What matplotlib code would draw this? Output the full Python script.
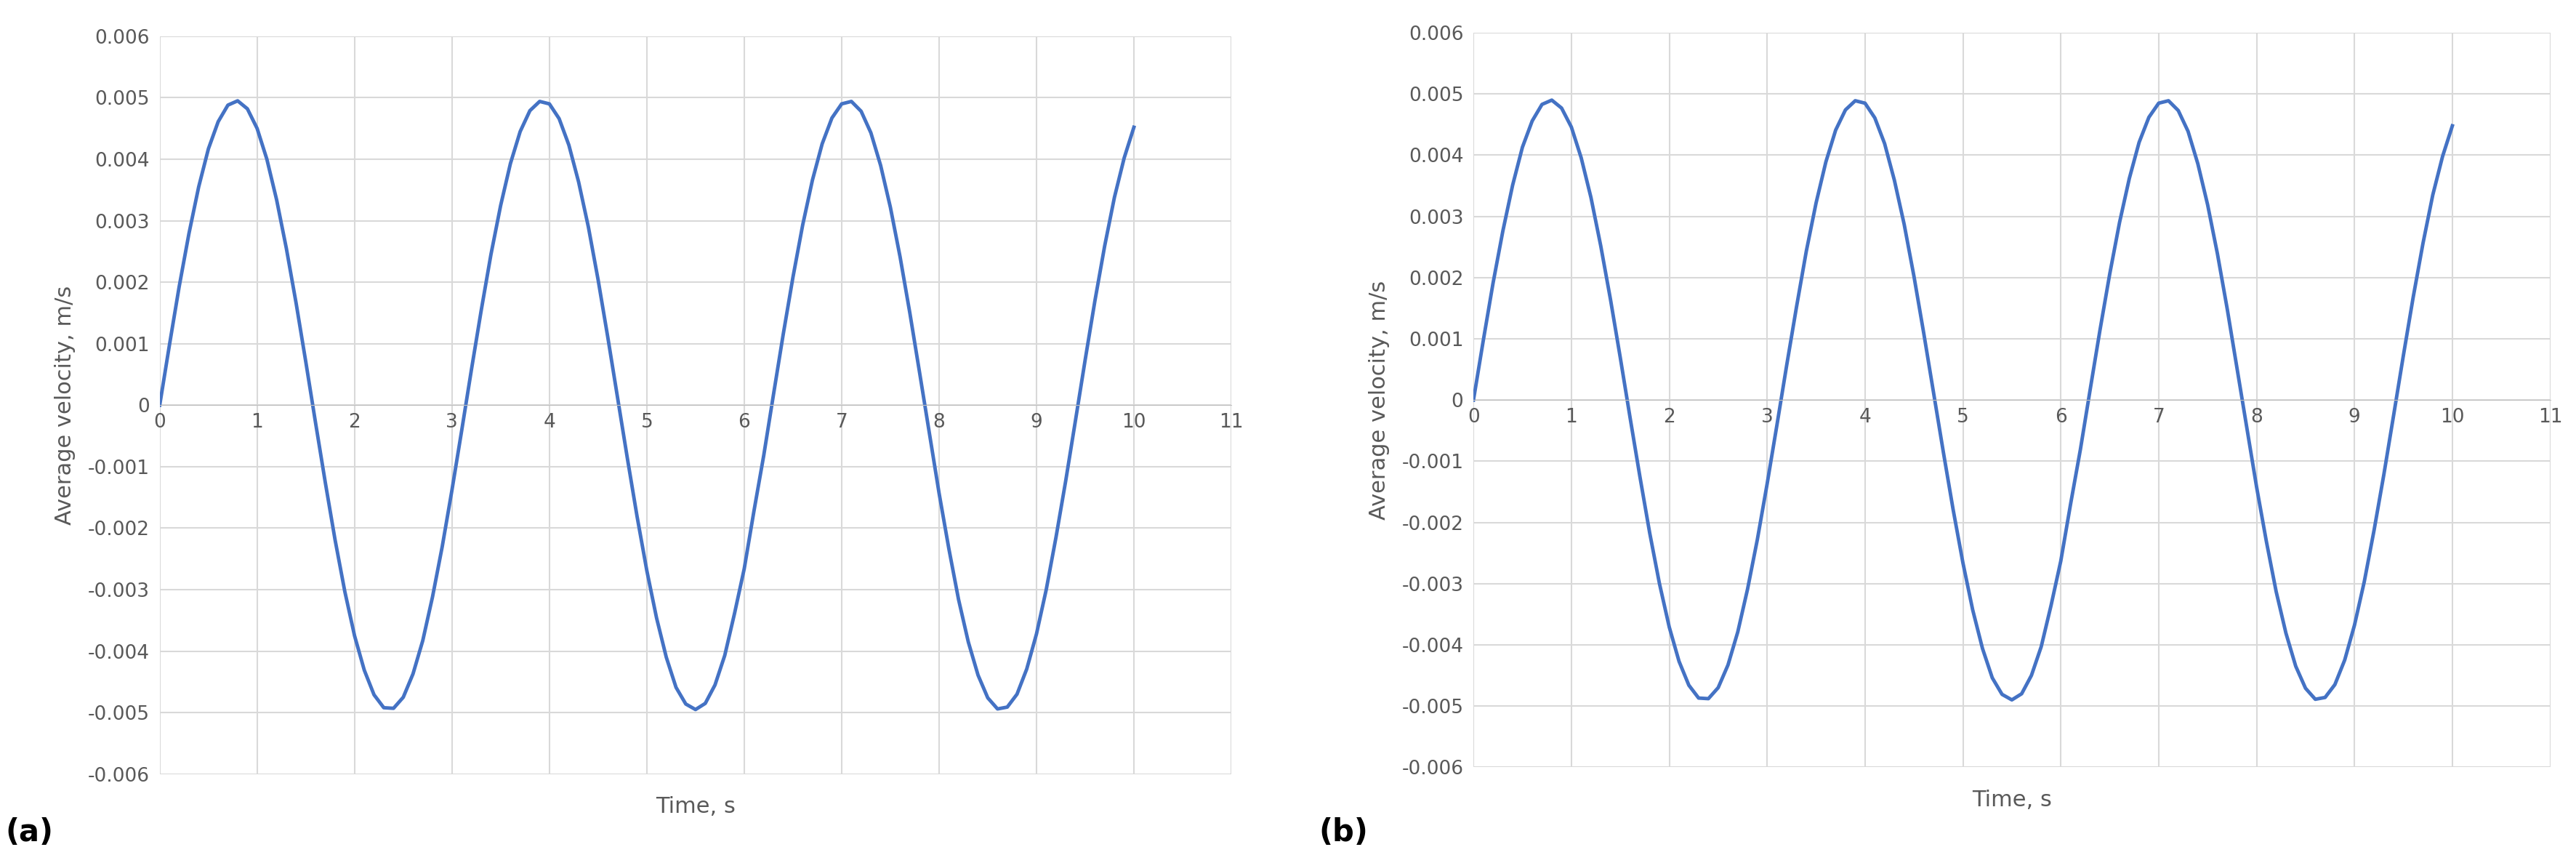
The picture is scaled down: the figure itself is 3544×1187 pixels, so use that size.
import matplotlib.pyplot as plt

# values (time in s, velocity in m/s), every 0.1 s
time_s = [round(0.1 * i, 1) for i in range(101)]
vel_a = [0.0, 0.00098, 0.00193, 0.00279, 0.00355, 0.00417, 0.00461, 0.00488, 0.00495, 0.00482,
         0.00450, 0.00400, 0.00334, 0.00255, 0.00166, 0.00070, -0.00029, -0.00126, -0.00219, -0.00303,
         -0.00375, -0.00431, -0.00471, -0.00492, -0.00493, -0.00475, -0.00437, -0.00383, -0.00312, -0.00230,
         -0.00138, -0.00041, 0.00058, 0.00154, 0.00245, 0.00325, 0.00393, 0.00445, 0.00479, 0.00494,
         0.00490, 0.00466, 0.00423, 0.00363, 0.00290, 0.00204, 0.00110, 0.00012, -0.00086, -0.00181,
         -0.00269, -0.00346, -0.00410, -0.00459, -0.00486, -0.00495, -0.00485, -0.00455, -0.00407, -0.00339,
         -0.00266, -0.00172, -0.00082, 0.00017, 0.00115, 0.00208, 0.00293, 0.00366, 0.00425, 0.00467,
         0.00490, 0.00494, 0.00478, 0.00443, 0.00390, 0.00322, 0.00241, 0.00150, 0.00053, -0.00045,
         -0.00143, -0.00233, -0.00316, -0.00385, -0.00439, -0.00476, -0.00494, -0.00491, -0.00470, -0.00429,
         -0.00372, -0.00300, -0.00215, -0.00123, -0.00025, 0.00074, 0.00170, 0.00259, 0.00338, 0.00402,
         0.00452]
vel_b = [0.0, 0.00097, 0.00191, 0.00276, 0.00351, 0.00413, 0.00456, 0.00483, 0.00490, 0.00477,
         0.00446, 0.00396, 0.00331, 0.00252, 0.00164, 0.00069, -0.00029, -0.00125, -0.00217, -0.00300,
         -0.00371, -0.00427, -0.00466, -0.00487, -0.00488, -0.00470, -0.00433, -0.00379, -0.00309, -0.00228,
         -0.00137, -0.00041, 0.00057, 0.00152, 0.00243, 0.00322, 0.00389, 0.00441, 0.00474, 0.00489,
         0.00485, 0.00461, 0.00419, 0.00359, 0.00287, 0.00202, 0.00109, 0.00012, -0.00085, -0.00179,
         -0.00266, -0.00343, -0.00406, -0.00454, -0.00481, -0.00490, -0.00480, -0.00450, -0.00403, -0.00336,
         -0.00263, -0.00170, -0.00081, 0.00017, 0.00114, 0.00206, 0.00290, 0.00362, 0.00421, 0.00462,
         0.00485, 0.00489, 0.00473, 0.00439, 0.00386, 0.00319, 0.00239, 0.00149, 0.00052, -0.00045,
         -0.00142, -0.00231, -0.00313, -0.00381, -0.00435, -0.00471, -0.00489, -0.00486, -0.00465, -0.00425,
         -0.00368, -0.00297, -0.00213, -0.00122, -0.00025, 0.00073, 0.00168, 0.00256, 0.00335, 0.00398,
         0.00448]
x_ticks = list(range(0, 12))
y_ticks = [-0.006, -0.005, -0.004, -0.003, -0.002, -0.001, 0, 0.001, 0.002, 0.003, 0.004, 0.005, 0.006]

fig = plt.figure(figsize=(35.44, 11.87), dpi=100)
grey = "#595959"


def draw_panel(rect, vel, label):
    ax = fig.add_axes(rect)
    ax.plot(time_s, vel, color="#4472C4", lw=3.5)
    ax.set_xlim(0, 11)
    ax.set_ylim(-0.006, 0.006)
    ax.grid(True, color="#d9d9d9", lw=1.5)
    for s in ["top", "right", "left"]:
        ax.spines[s].set_visible(False)
    ax.spines["bottom"].set_position(("data", 0))
    ax.spines["bottom"].set_color("#bfbfbf")
    ax.set_xticks(x_ticks)
    ax.set_yticks(y_ticks)
    ax.set_xticklabels([str(t) for t in x_ticks])
    ax.set_yticklabels([f"{v:g}" for v in y_ticks])
    ax.tick_params(axis="both", length=0, labelsize=19, labelcolor=grey)
    ax.tick_params(axis="x", pad=8)
    ax.tick_params(axis="y", pad=10)
    ax.set_ylabel("Average velocity, m/s", fontsize=22, color=grey, labelpad=12)
    ax.text(0.5, -0.03, "Time, s", transform=ax.transAxes, ha="center", va="top",
            fontsize=22, color=grey)
    fig.text(rect[0] - 0.06, 0.025, label, fontsize=30, fontweight="bold")
    return ax


draw_panel([0.062, 0.103, 0.416, 0.855], vel_a, "(a)")
draw_panel([0.572, 0.111, 0.418, 0.851], vel_b, "(b)")

fig.savefig("out.png")
